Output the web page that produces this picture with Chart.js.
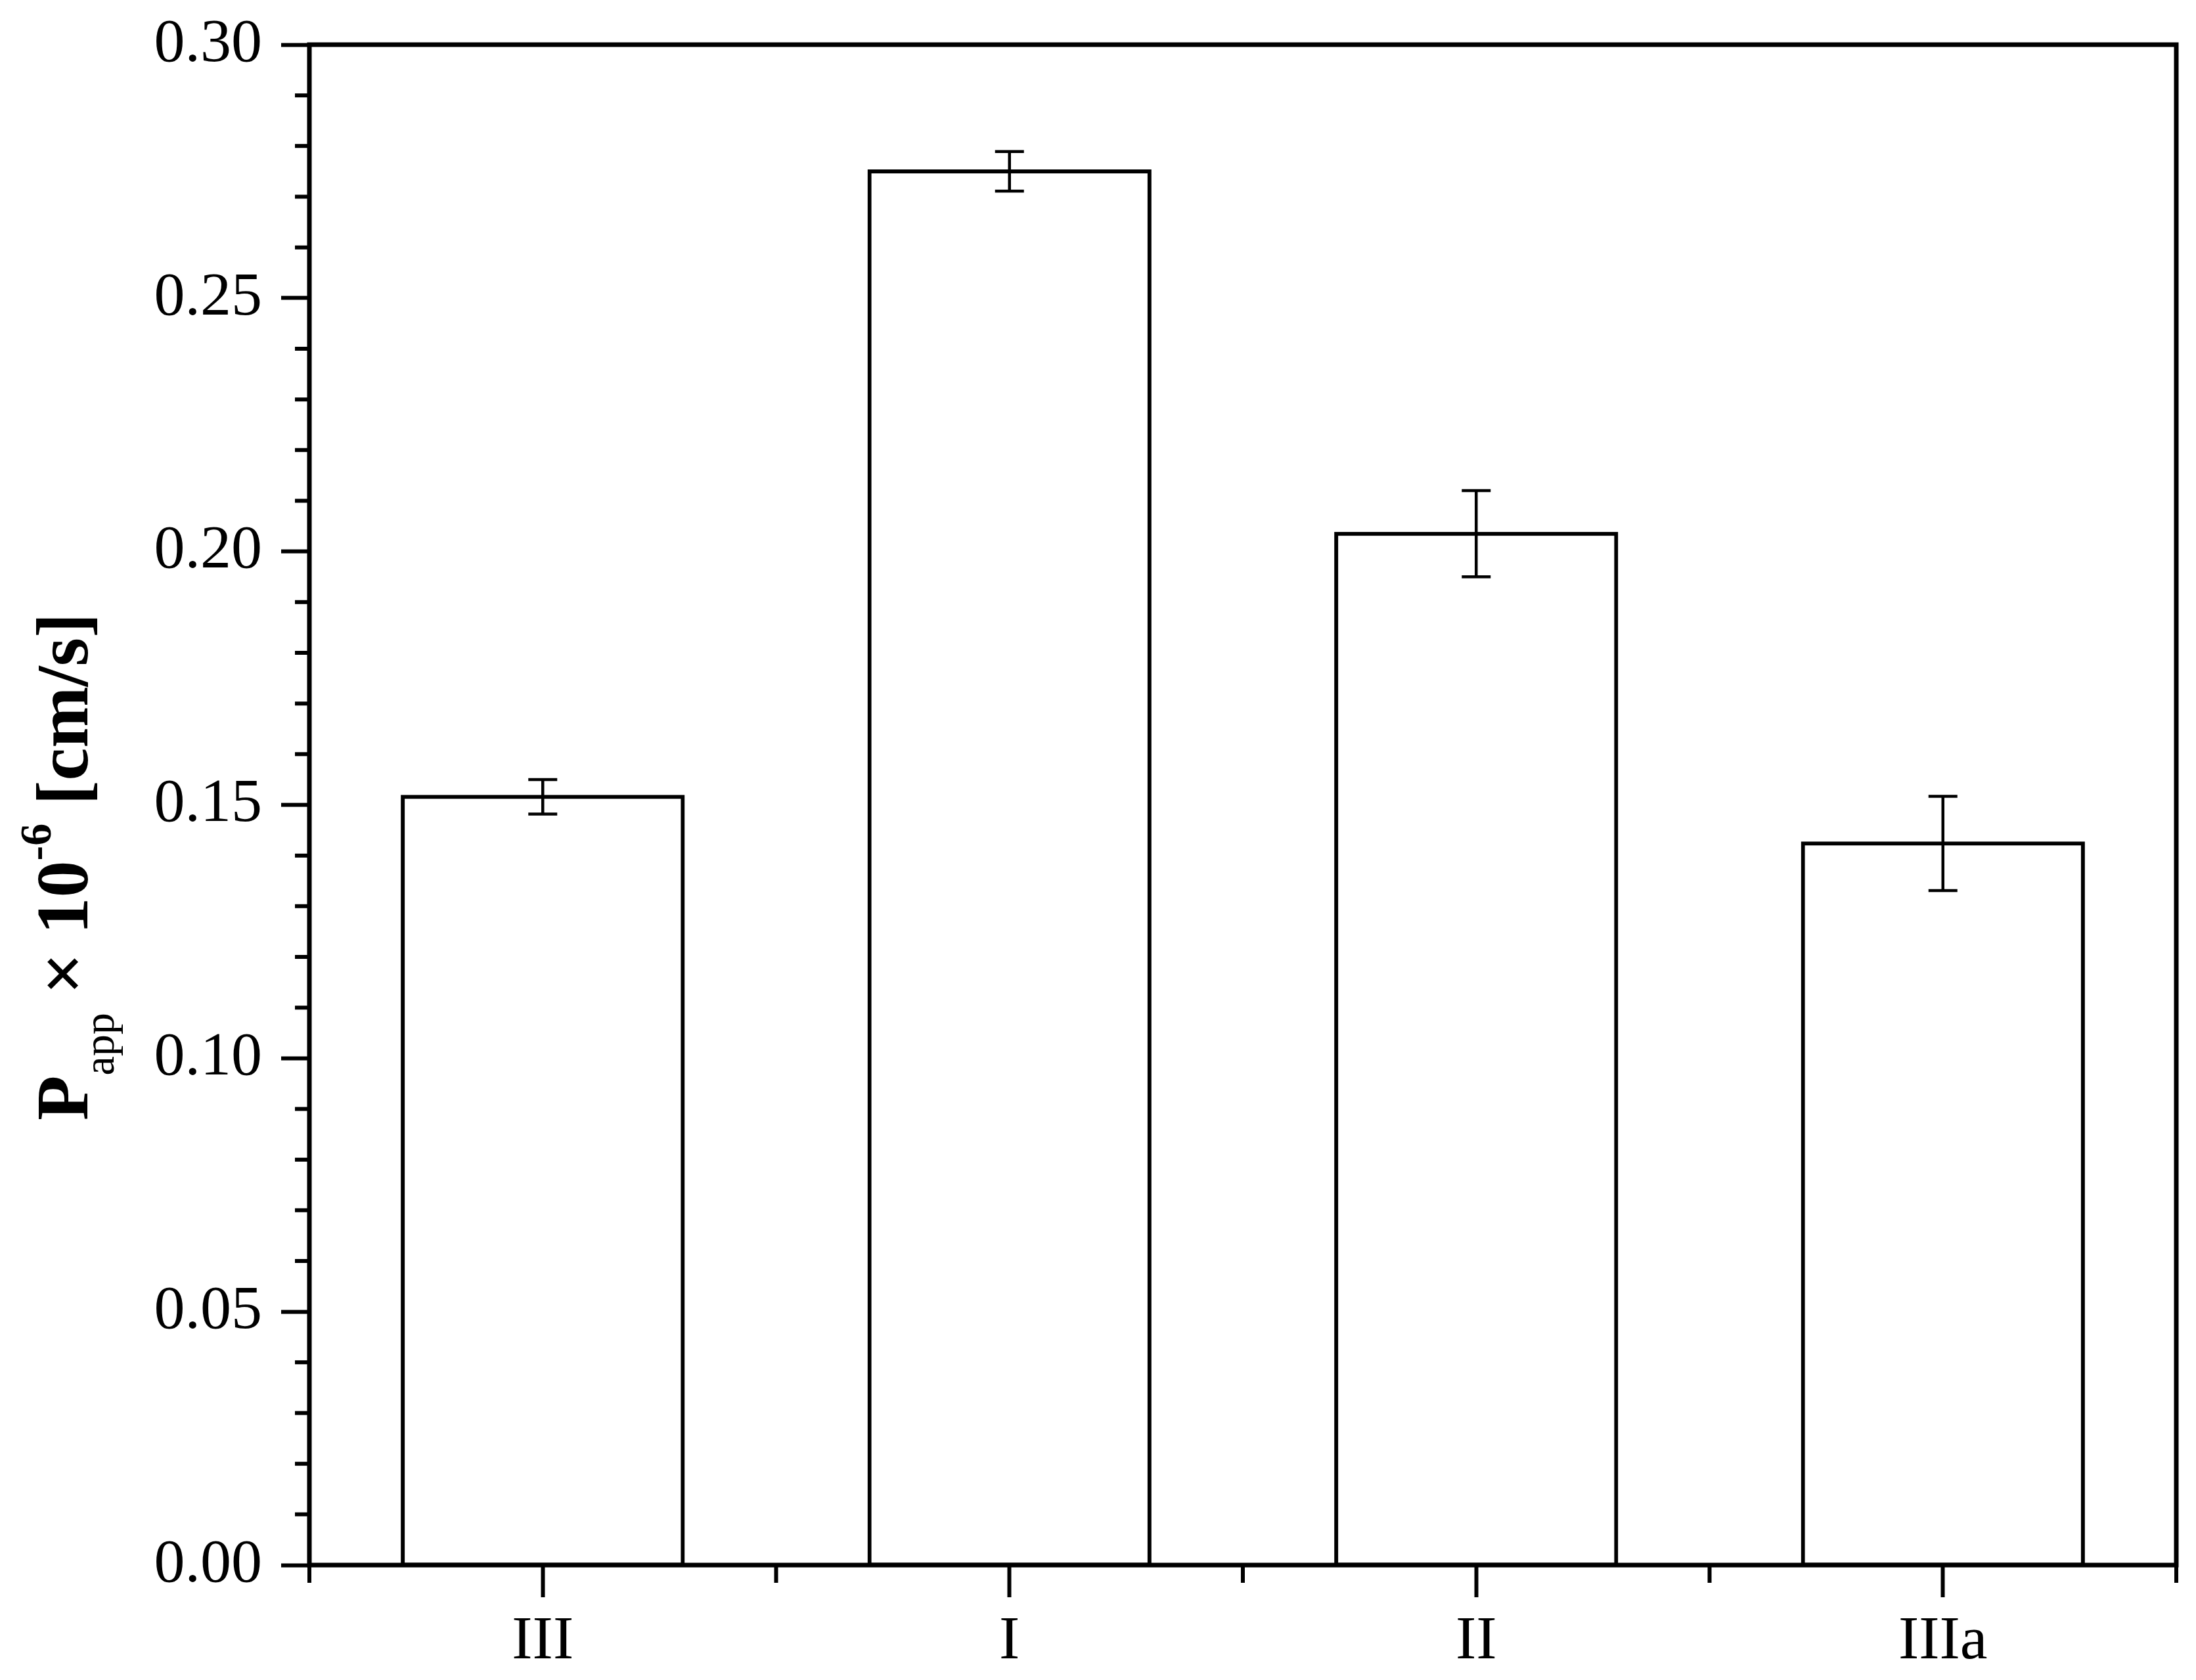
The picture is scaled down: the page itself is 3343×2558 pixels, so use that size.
<!DOCTYPE html>
<html>
<head>
<meta charset="utf-8">
<script src="https://cdn.jsdelivr.net/npm/chart.js@4"></script>
<style>
  html, body { margin: 0; padding: 0; background: #fff; }
  #wrap { width: 3343px; height: 2558px; }
</style>
</head>
<body>
<div id="wrap"><canvas id="pappChart" width="3343" height="2558"></canvas></div>
<script>
// data
const compounds = ['III', 'I', 'II', 'IIIa'];
const pappValues = [0.1516, 0.2750, 0.2035, 0.1424];
const pappErrors = [0.0034, 0.0039, 0.0085, 0.0093];
const yMin = 0;
const yMax = 0.30;
const yStep = 0.05;
const yMinorStep = 0.01;

const serif = '"Liberation Serif", "Times New Roman", serif';

// frame round the plot area
const framePlugin = {
  id: 'frame',
  afterDatasetsDraw(chart) {
    const { ctx, chartArea: a } = chart;
    ctx.save();
    ctx.strokeStyle = '#000';
    ctx.lineWidth = 7;
    ctx.strokeRect(a.left, a.top, a.right - a.left, a.bottom - a.top);
    ctx.restore();
  }
};

// minor ticks on both axes
const minorTicksPlugin = {
  id: 'minorTicks',
  afterDraw(chart) {
    const { ctx, chartArea: a } = chart;
    const y = chart.scales.y;
    const x = chart.scales.x;
    ctx.save();
    ctx.strokeStyle = '#000';
    ctx.lineWidth = 6;
    ctx.beginPath();
    const n = Math.round((yMax - yMin) / yMinorStep);
    const per = Math.round(yStep / yMinorStep);
    for (let i = 0; i <= n; i++) {
      if (i % per === 0) continue;
      const py = y.getPixelForValue(yMin + i * yMinorStep);
      ctx.moveTo(a.left - 22, py);
      ctx.lineTo(a.left, py);
    }
    const half = (x.getPixelForValue(1) - x.getPixelForValue(0)) / 2;
    for (let i = 0; i <= compounds.length; i++) {
      const px = x.getPixelForValue(i) - half;
      ctx.moveTo(px, a.bottom);
      ctx.lineTo(px, a.bottom + 27);
    }
    ctx.stroke();
    ctx.restore();
  }
};

// error bars from the bar elements and the y scale
const errorBarPlugin = {
  id: 'errorBars',
  afterDatasetsDraw(chart) {
    const { ctx } = chart;
    const y = chart.scales.y;
    const meta = chart.getDatasetMeta(0);
    ctx.save();
    ctx.strokeStyle = '#000';
    ctx.lineWidth = 4.5;
    meta.data.forEach((bar, i) => {
      const top = y.getPixelForValue(pappValues[i] + pappErrors[i]);
      const bottom = y.getPixelForValue(pappValues[i] - pappErrors[i]);
      ctx.beginPath();
      ctx.moveTo(bar.x, top);
      ctx.lineTo(bar.x, bottom);
      ctx.moveTo(bar.x - 22, top);
      ctx.lineTo(bar.x + 22, top);
      ctx.moveTo(bar.x - 22, bottom);
      ctx.lineTo(bar.x + 22, bottom);
      ctx.stroke();
    });
    ctx.restore();
  }
};

// y axis title with subscript and superscript
const yTitlePlugin = {
  id: 'yTitle',
  afterDraw(chart) {
    const { ctx } = chart;
    const parts = [
      { text: 'P', size: 112, weight: 'bold', dy: 0 },
      { text: 'app', size: 66, weight: 'normal', dy: 40 },
      { text: ' \u00d7 10', size: 112, weight: 'bold', dy: 0 },
      { text: '-6', size: 68, weight: 'bold', dy: -56 },
      { text: ' [cm/s]', size: 112, weight: 'bold', dy: 0 }
    ];
    ctx.save();
    ctx.translate(133, 1706);
    ctx.rotate(-Math.PI / 2);
    ctx.fillStyle = '#000';
    ctx.textBaseline = 'alphabetic';
    ctx.textAlign = 'left';
    let pos = 0;
    parts.forEach(p => {
      ctx.font = p.weight + ' ' + p.size + 'px ' + serif;
      ctx.fillText(p.text, pos, p.dy);
      pos += ctx.measureText(p.text).width;
    });
    ctx.restore();
  }
};

const ctx = document.getElementById('pappChart').getContext('2d');

const data = {
  labels: compounds,
  datasets: [
    {
      label: 'Papp',
      data: pappValues,
      backgroundColor: '#fff',
      borderColor: '#000',
      borderWidth: 6,
      borderSkipped: false,
      inflateAmount: 3,
      barPercentage: 0.6,
      categoryPercentage: 1.0
    }
  ]
};

const config = {
  type: 'bar',
  data: data,
  options: {
    responsive: false,
    animation: false,
    layout: {
      padding: { top: 68, right: 30, bottom: 0, left: 0 }
    },
    plugins: {
      legend: { display: false },
      tooltip: { enabled: false }
    },
    scales: {
      x: {
        offset: true,
        grid: {
          offset: false,
          drawOnChartArea: false,
          drawTicks: true,
          tickLength: 49,
          tickWidth: 6,
          tickColor: '#000'
        },
        border: { display: false },
        ticks: {
          color: '#000',
          padding: 12,
          font: { family: serif, size: 94 }
        },
        afterFit(scale) {
          scale.height = 175;
          scale.paddingLeft = 0;
          scale.paddingRight = 0;
        }
      },
      y: {
        min: yMin,
        max: yMax,
        grid: {
          drawOnChartArea: false,
          drawTicks: true,
          tickLength: 43,
          tickWidth: 6,
          tickColor: '#000'
        },
        border: { display: false },
        ticks: {
          stepSize: yStep,
          color: '#000',
          padding: 29,
          font: { family: serif, size: 94 },
          callback: v => v.toFixed(2)
        },
        afterFit(scale) {
          scale.width = 471;
          scale.paddingTop = 0;
          scale.paddingBottom = 0;
        }
      }
    }
  },
  plugins: [framePlugin, errorBarPlugin, minorTicksPlugin, yTitlePlugin]
};

const pappChart = new Chart(ctx, config);
</script>
</body>
</html>
